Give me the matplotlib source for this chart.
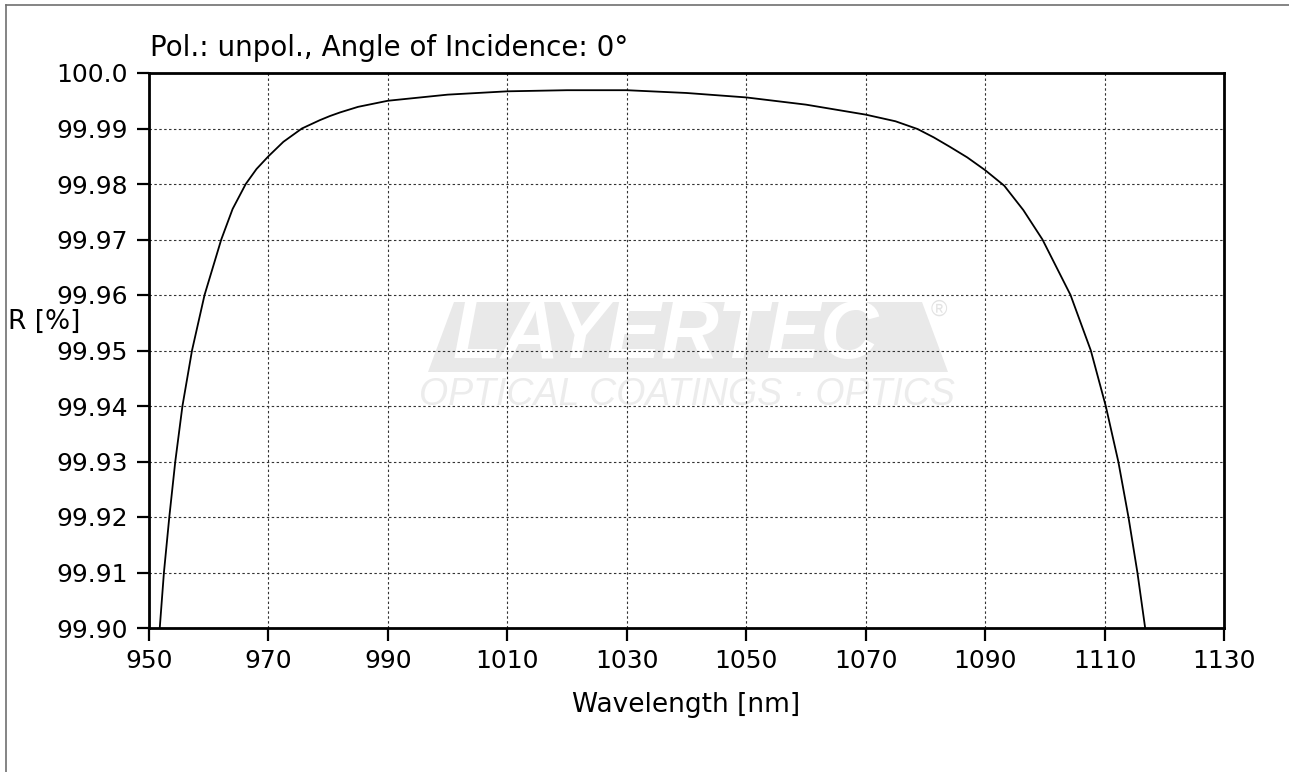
import matplotlib
matplotlib.use("Agg")
import matplotlib.pyplot as plt
from matplotlib.lines import Line2D
from matplotlib.patches import Polygon

plt.rcParams['font.family'] = ['DejaVu Sans']

# reflectance curve
wavelength_nm = [951.8, 952.5, 953.4, 954.4, 955.6, 957.2, 959.3, 962.1, 964.0,
                 966.2, 968.0, 970.0, 972.5, 975.6, 978.6, 980.3, 982.0, 985.0,
                 990.0, 1000.0, 1010.0, 1020.0, 1030.0, 1040.0, 1050.0, 1060.0,
                 1070.0, 1075.0, 1078.7, 1081.4, 1084.1, 1087.0, 1090.0, 1093.2,
                 1096.4, 1099.6, 1104.3, 1107.7, 1110.2, 1112.3, 1114.0, 1115.5,
                 1116.8]
reflectance_pct = [99.900, 99.910, 99.920, 99.930, 99.940, 99.950, 99.960, 99.970, 99.9755,
                   99.9800, 99.9827, 99.9850, 99.9876, 99.990, 99.9915, 99.99225, 99.9929,
                   99.9939, 99.9950, 99.9961, 99.9967, 99.9969, 99.9969, 99.9964, 99.9956,
                   99.9943, 99.9925, 99.9913, 99.9899, 99.9884, 99.9867, 99.9848, 99.9825,
                   99.9797, 99.9753, 99.9700, 99.960, 99.950, 99.940, 99.930, 99.920,
                   99.910, 99.900]

x_ticks = [950, 970, 990, 1010, 1030, 1050, 1070, 1090, 1110, 1130]
y_ticks = [99.90, 99.91, 99.92, 99.93, 99.94, 99.95, 99.96, 99.97, 99.98, 99.99, 100.0]
y_tick_labels = ['99.90', '99.91', '99.92', '99.93', '99.94', '99.95', '99.96',
                 '99.97', '99.98', '99.99', '100.0']

H = 772
fig = plt.figure(figsize=(12.89, 7.72), dpi=100)
ax = fig.add_axes([149 / 1289, 1 - 628 / H, 1075 / 1289, 555 / H])

# faint company watermark behind the grid (pixel coords, y measured from top)
band_px = [[428, 372], [454, 302], [922, 302], [948, 372]]
band = Polygon([[x, H - y] for x, y in band_px], closed=True, transform=None,
               facecolor='#e9e9e9', edgecolor='none', zorder=0.2)
ax.add_patch(band)
ax.text(0.282, 0.524, 'LAYERTEC', transform=ax.transAxes, fontsize=58,
        family='Liberation Sans', fontweight='bold', style='italic', color='white',
        ha='left', va='center', zorder=0.3)
ax.text(0.727, 0.573, '\u00ae', transform=ax.transAxes, fontsize=16, color='#e3e3e3',
        family='Liberation Sans', ha='left', va='center', zorder=0.3)
ax.text(0.500, 0.420, 'OPTICAL COATINGS \u00b7 OPTICS', transform=ax.transAxes,
        fontsize=27, family='Liberation Sans', style='italic', color='#ececec',
        ha='center', va='center', zorder=0.3)

ax.plot(wavelength_nm, reflectance_pct, color='black', lw=1.3, zorder=3)

ax.set_xlim(950, 1130)
ax.set_ylim(99.90, 100.0)
ax.set_xticks(x_ticks)
ax.set_yticks(y_ticks)
ax.set_yticklabels(y_tick_labels)
ax.set_axisbelow(True)
ax.grid(True, color='#333333', linestyle=(0, (2.2, 2.2)), lw=0.8)

for s in ax.spines.values():
    s.set_linewidth(2)
    s.set_color('black')
ax.tick_params(direction='out', length=9, width=1.6, labelsize=18, pad=6,
               colors='black')

ax.set_xlabel('Wavelength [nm]', fontsize=19)
ax.xaxis.set_label_coords(0.5, -0.139)
ax.xaxis.label.set_va('center')
ax.set_ylabel('R [%]', fontsize=19, rotation=0, ha='left', va='center')
ax.yaxis.set_label_coords(-0.131, 0.551)

ax.text(0.001, 1.045, 'Pol.: unpol., Angle of Incidence: 0\u00b0',
        transform=ax.transAxes, fontsize=20, ha='left', va='center')

# outer frame lines (top and left)
fig.add_artist(Line2D([6 / 1289, 1], [1 - 5 / H, 1 - 5 / H],
                      transform=fig.transFigure, color='#707070', lw=1.2))
fig.add_artist(Line2D([6 / 1289, 6 / 1289], [0, 1 - 5 / H],
                      transform=fig.transFigure, color='#707070', lw=1.2))

fig.savefig('out.png', dpi=100)
